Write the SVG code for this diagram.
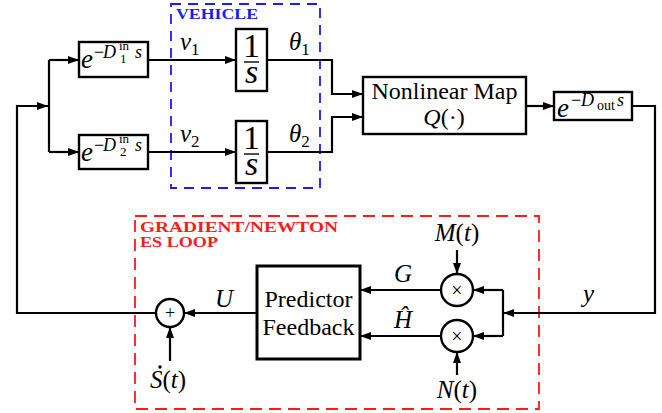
<svg xmlns="http://www.w3.org/2000/svg" width="662" height="413" viewBox="0 0 662 413">
<style>
  .blk { fill: #fff; stroke: #000; stroke-width: 2.4; }
  .thick { stroke-width: 3; }
  .ln { fill: none; stroke: #000; stroke-width: 2.2; }
  .arr { fill: none; stroke: #000; stroke-width: 2.2; marker-end: url(#ah); }
  .rm { font-family: "Liberation Serif", "Times New Roman", serif; fill: #000; }
  .it { font-family: "Liberation Serif", "Times New Roman", serif; font-style: italic; fill: #000; }
  .lbl { font-family: "Liberation Serif", "Times New Roman", serif; font-weight: bold; }
</style>
<defs>
  <marker id="ah" markerUnits="userSpaceOnUse" markerWidth="12" markerHeight="10" refX="11" refY="4" orient="auto">
    <path d="M0,0 L11,4 L0,8 Z" fill="#000"/>
  </marker>
</defs>

<!-- group boxes -->
<g id="vehicle">
  <rect x="171" y="4" width="149" height="184" fill="none" stroke="#1a1aff" stroke-width="1.8" stroke-dasharray="10,7"/>
  <text class="lbl" x="176" y="19" font-size="15" fill="#1a1aff" textLength="82" lengthAdjust="spacingAndGlyphs">VEHICLE</text>
</g>
<g id="es-loop">
  <rect x="135" y="216" width="404" height="193" fill="none" stroke="#ff1a1a" stroke-width="1.8" stroke-dasharray="12,7"/>
  <text class="lbl" x="140" y="232" font-size="15" fill="#ff1a1a" textLength="198" lengthAdjust="spacingAndGlyphs">GRADIENT/NEWTON</text>
  <text class="lbl" x="140" y="247" font-size="15" fill="#ff1a1a" textLength="78" lengthAdjust="spacingAndGlyphs">ES LOOP</text>
</g>

<!-- connectors -->
<g id="connectors">
  <polyline class="arr" points="156,313 17,313 17,106 48,106"/>
  <polyline class="ln" points="49,60 49,152"/>
  <polyline class="arr" points="49,60 79,60"/>
  <polyline class="arr" points="49,152 79,152"/>
  <polyline class="arr" points="148,60 236,60"/>
  <polyline class="arr" points="148,152 236,152"/>
  <polyline class="arr" points="267,60 332,60 332,94 363,94"/>
  <polyline class="arr" points="267,152 332,152 332,117 363,117"/>
  <polyline class="arr" points="527,106 554,106"/>
  <polyline class="arr" points="632,106 655,106 655,313 503,313"/>
  <polyline class="ln" points="503,290 503,336"/>
  <polyline class="arr" points="503,290 473,290"/>
  <polyline class="arr" points="503,336 473,336"/>
  <polyline class="arr" points="441,290 360,290"/>
  <polyline class="arr" points="441,336 360,336"/>
  <polyline class="arr" points="457,250 457,274"/>
  <polyline class="arr" points="457,375 457,352"/>
  <polyline class="arr" points="257,313 184,313"/>
  <polyline class="arr" points="170,361 170,327"/>
  <!-- connector labels -->
  <text class="it" x="180" y="50" font-size="25">v<tspan class="rm" font-style="normal" font-size="17" dy="5">1</tspan></text>
  <text class="it" x="180" y="142" font-size="25">v<tspan font-style="normal" font-size="17" dy="5">2</tspan></text>
  <text class="it" x="289" y="50" font-size="25">θ<tspan font-style="normal" font-size="17" dy="5">1</tspan></text>
  <text class="it" x="289" y="142" font-size="25">θ<tspan font-style="normal" font-size="17" dy="5">2</tspan></text>
  <text class="it" x="583" y="302" font-size="25">y</text>
  <text class="it" x="394" y="282" font-size="25">G</text>
  <text class="it" x="394" y="328" font-size="25">Ĥ</text>
  <text class="it" x="215" y="307" font-size="25">U</text>
  <text class="it" x="457" y="241" font-size="25" text-anchor="middle">M<tspan font-style="normal">(</tspan>t<tspan font-style="normal">)</tspan></text>
  <text class="it" x="457" y="398" font-size="25" text-anchor="middle">N<tspan font-style="normal">(</tspan>t<tspan font-style="normal">)</tspan></text>
  <text class="it" x="168" y="388" font-size="25" text-anchor="middle">S<tspan font-style="normal">(</tspan>t<tspan font-style="normal">)</tspan></text>
  <circle cx="160" cy="367" r="1.7" fill="#000"/>
</g>

<!-- nodes -->
<g id="delay1">
  <rect class="blk" x="79" y="42" width="69" height="35"/>
  <text class="it" x="81" y="68" font-size="27">e</text>
  <text class="rm" x="94" y="58" font-size="18">−</text>
  <text class="it" x="103" y="58" font-size="18">D</text>
  <text class="rm" font-size="13"><tspan x="119" y="50">in</tspan><tspan x="120" y="63">1</tspan></text>
  <text class="it" x="135" y="58" font-size="18">s</text>
</g>
<g id="delay2">
  <rect class="blk" x="79" y="135" width="69" height="34"/>
  <text class="it" x="81" y="161" font-size="27">e</text>
  <text class="rm" x="94" y="151" font-size="18">−</text>
  <text class="it" x="103" y="151" font-size="18">D</text>
  <text class="rm" font-size="13"><tspan x="119" y="143">in</tspan><tspan x="120" y="156">2</tspan></text>
  <text class="it" x="135" y="151" font-size="18">s</text>
</g>
<g id="integrator1">
  <rect class="blk" x="236" y="29" width="31" height="62"/>
  <text class="rm" font-size="34" text-anchor="middle"><tspan x="251.5" y="57">1</tspan><tspan x="251.5" y="83" font-style="italic">s</tspan></text>
  <line x1="244" y1="62" x2="259" y2="62" stroke="#000" stroke-width="1.4"/>
</g>
<g id="integrator2">
  <rect class="blk" x="236" y="121" width="31" height="62"/>
  <text class="rm" font-size="34" text-anchor="middle"><tspan x="251.5" y="149">1</tspan><tspan x="251.5" y="175" font-style="italic">s</tspan></text>
  <line x1="244" y1="154" x2="259" y2="154" stroke="#000" stroke-width="1.4"/>
</g>
<g id="nonlinear-map">
  <rect class="blk" x="363" y="77" width="163" height="57"/>
  <text class="rm" x="444.5" y="99" font-size="24" text-anchor="middle">Nonlinear Map</text>
  <text class="it" x="444" y="125" font-size="24" text-anchor="middle">Q<tspan font-style="normal">(·)</tspan></text>
</g>
<g id="delay-out">
  <rect class="blk" x="554" y="92" width="78" height="28"/>
  <text class="it" x="557" y="117" font-size="27">e</text>
  <text class="rm" x="571" y="106" font-size="18">−</text>
  <text class="it" x="581" y="106" font-size="18">D</text>
  <text class="rm" x="597" y="110" font-size="14">out</text>
  <text class="it" x="617" y="106" font-size="18">s</text>
</g>
<g id="predictor-feedback">
  <rect class="blk thick" x="257" y="266" width="103" height="93"/>
  <text class="rm" x="308.5" y="307" font-size="24" text-anchor="middle">Predictor</text>
  <text class="rm" x="308.5" y="335" font-size="24" text-anchor="middle">Feedback</text>
</g>
<g id="mult-m">
  <circle class="blk" cx="457" cy="290" r="16"/>
  <text class="rm" x="457" y="297" font-size="20" text-anchor="middle">×</text>
</g>
<g id="mult-n">
  <circle class="blk" cx="457" cy="336" r="16"/>
  <text class="rm" x="457" y="343" font-size="20" text-anchor="middle">×</text>
</g>
<g id="sum">
  <circle class="blk" cx="170" cy="313" r="14"/>
  <text class="rm" x="170" y="319" font-size="18" text-anchor="middle">+</text>
</g>
</svg>
